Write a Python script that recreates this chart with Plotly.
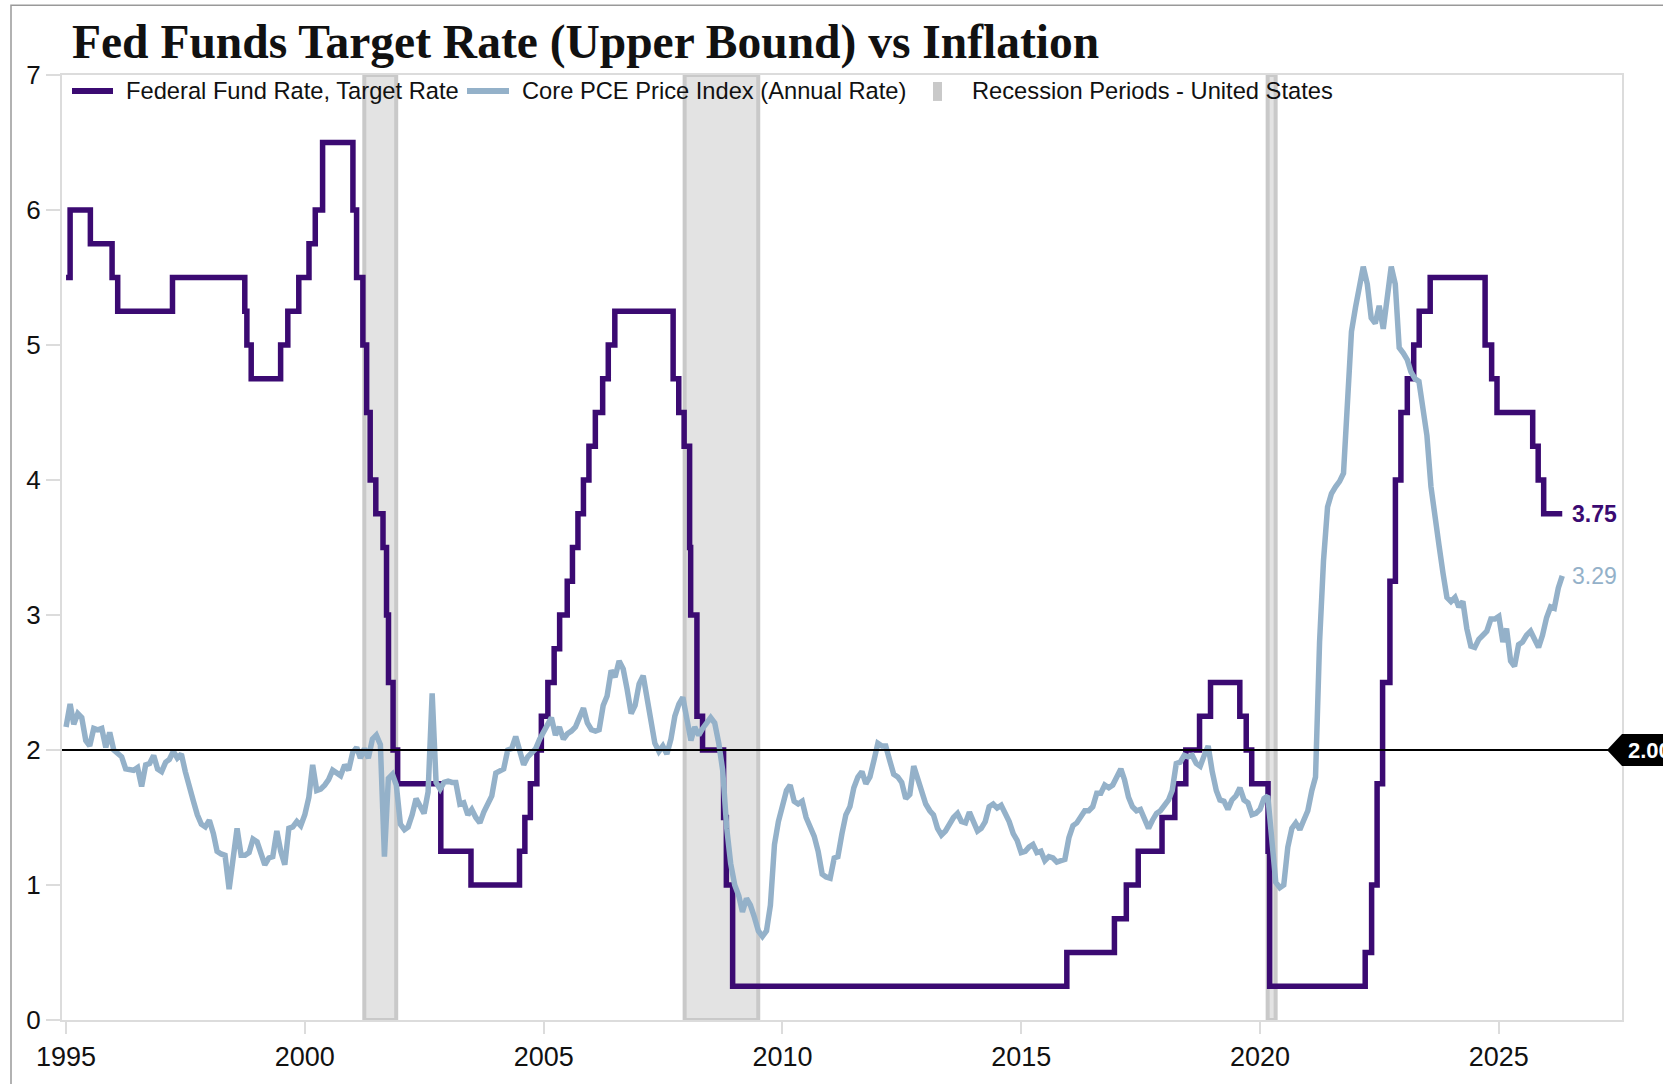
import plotly.graph_objects as go
import pandas as pd

title_text = "Fed Funds Target Rate (Upper Bound) vs Inflation"
fed_name = "Federal Fund Rate, Target Rate"
pce_name = "Core PCE Price Index (Annual Rate)"
rec_name = "Recession Periods - United States"

# Fed funds target rate (upper bound): change dates and new levels
fed_dates = ["1995-01-01", "1995-02-01", "1995-07-06", "1995-12-19", "1996-01-31", "1997-03-25",
             "1998-09-29", "1998-10-15", "1998-11-17", "1999-06-30", "1999-08-24", "1999-11-16",
             "2000-02-02", "2000-03-21", "2000-05-16", "2001-01-03", "2001-01-31", "2001-03-20",
             "2001-04-18", "2001-05-15", "2001-06-27", "2001-08-21", "2001-09-17", "2001-10-02",
             "2001-11-06", "2001-12-11", "2002-11-06", "2003-06-25", "2004-06-30", "2004-08-10",
             "2004-09-21", "2004-11-10", "2004-12-14", "2005-02-02", "2005-03-22", "2005-05-03",
             "2005-06-30", "2005-08-09", "2005-09-20", "2005-11-01", "2005-12-13", "2006-01-31",
             "2006-03-28", "2006-05-10", "2006-06-29", "2007-09-18", "2007-10-31", "2007-12-11",
             "2008-01-22", "2008-01-30", "2008-03-18", "2008-04-30", "2008-10-08", "2008-10-29",
             "2008-12-16", "2015-12-16", "2016-12-14", "2017-03-15", "2017-06-14", "2017-12-13",
             "2018-03-21", "2018-06-13", "2018-09-26", "2018-12-19", "2019-07-31", "2019-09-18",
             "2019-10-30", "2020-03-03", "2020-03-15", "2022-03-16", "2022-05-04", "2022-06-15",
             "2022-07-27", "2022-09-21", "2022-11-02", "2022-12-14", "2023-02-01", "2023-03-22",
             "2023-05-03", "2023-07-26", "2024-09-18", "2024-11-07", "2024-12-18", "2025-09-17",
             "2025-10-29", "2025-12-10", "2026-05-01"]
fed_values = [5.5, 6.0, 5.75, 5.5, 5.25, 5.5,
              5.25, 5.0, 4.75, 5.0, 5.25, 5.5,
              5.75, 6.0, 6.5, 6.0, 5.5, 5.0,
              4.5, 4.0, 3.75, 3.5, 3.0, 2.5,
              2.0, 1.75, 1.25, 1.0, 1.25, 1.5,
              1.75, 2.0, 2.25, 2.5, 2.75, 3.0,
              3.25, 3.5, 3.75, 4.0, 4.25, 4.5,
              4.75, 5.0, 5.25, 4.75, 4.5, 4.25,
              3.5, 3.0, 2.25, 2.0, 1.5, 1.0,
              0.25, 0.5, 0.75, 1.0, 1.25, 1.5,
              1.75, 2.0, 2.25, 2.5, 2.25, 2.0,
              1.75, 1.25, 0.25, 0.5, 1.0, 1.75,
              2.5, 3.25, 4.0, 4.5, 4.75, 5.0,
              5.25, 5.5, 5.0, 4.75, 4.5, 4.25,
              4.0, 3.75, 3.75]

# Core PCE, annual rate, monthly from Jan 1995
pce_start = "1995-01-01"
pce_values = [
    2.17, 2.34, 2.19, 2.27, 2.24, 2.07, 2.03, 2.16, 2.15, 2.16, 2.02, 2.13,   # 1995
    2.00, 1.97, 1.95, 1.86, 1.85, 1.85, 1.87, 1.73, 1.89, 1.90, 1.96, 1.86,   # 1996
    1.84, 1.91, 1.93, 1.99, 1.94, 1.97, 1.84, 1.71, 1.62, 1.52, 1.45, 1.43,   # 1997
    1.48, 1.38, 1.25, 1.23, 1.22, 0.97, 1.18, 1.42, 1.22, 1.22, 1.24, 1.34,   # 1998
    1.32, 1.22, 1.15, 1.20, 1.21, 1.40, 1.25, 1.15, 1.42, 1.43, 1.47, 1.44,   # 1999
    1.52, 1.65, 1.89, 1.70, 1.71, 1.74, 1.78, 1.85, 1.83, 1.81, 1.89, 1.85,   # 2000
    1.98, 2.02, 1.94, 2.01, 1.94, 2.08, 2.11, 2.04, 1.21, 1.79, 1.82, 1.74,   # 2001
    1.45, 1.41, 1.43, 1.52, 1.64, 1.58, 1.53, 1.69, 2.42, 1.76, 1.71, 1.76,   # 2002
    1.77, 1.76, 1.76, 1.60, 1.61, 1.52, 1.56, 1.50, 1.46, 1.54, 1.60, 1.66,   # 2003
    1.83, 1.85, 1.86, 2.00, 2.01, 2.10, 1.98, 1.89, 1.95, 1.98, 2.01, 2.08,   # 2004
    2.13, 2.19, 2.24, 2.11, 2.17, 2.08, 2.12, 2.14, 2.17, 2.24, 2.31, 2.20,   # 2005
    2.15, 2.14, 2.15, 2.33, 2.40, 2.59, 2.54, 2.66, 2.60, 2.45, 2.27, 2.33,   # 2006
    2.49, 2.55, 2.40, 2.22, 2.05, 1.99, 2.03, 1.97, 2.08, 2.25, 2.34, 2.39,   # 2007
    2.20, 2.07, 2.17, 2.11, 2.16, 2.20, 2.24, 2.20, 2.05, 1.85, 1.42, 1.16,   # 2008
    1.00, 0.92, 0.80, 0.90, 0.85, 0.76, 0.66, 0.62, 0.66, 0.85, 1.30, 1.47,   # 2009
    1.60, 1.70, 1.74, 1.62, 1.60, 1.62, 1.50, 1.44, 1.36, 1.25, 1.08, 1.06,   # 2010
    1.05, 1.20, 1.21, 1.38, 1.52, 1.58, 1.72, 1.80, 1.84, 1.75, 1.80, 1.92,   # 2011
    2.05, 2.03, 2.03, 1.92, 1.82, 1.80, 1.76, 1.64, 1.67, 1.88, 1.78, 1.68,   # 2012
    1.60, 1.55, 1.52, 1.42, 1.37, 1.40, 1.46, 1.50, 1.53, 1.47, 1.46, 1.54,   # 2013
    1.47, 1.40, 1.42, 1.47, 1.58, 1.60, 1.57, 1.59, 1.53, 1.47, 1.38, 1.33,   # 2014
    1.24, 1.25, 1.28, 1.30, 1.24, 1.25, 1.18, 1.21, 1.20, 1.17, 1.18, 1.19,   # 2015
    1.35, 1.44, 1.46, 1.50, 1.55, 1.55, 1.58, 1.68, 1.68, 1.74, 1.72, 1.74,   # 2016
    1.80, 1.86, 1.78, 1.65, 1.58, 1.55, 1.56, 1.48, 1.42, 1.48, 1.53, 1.55,   # 2017
    1.59, 1.63, 1.70, 1.90, 1.91, 1.96, 1.95, 1.96, 1.90, 1.88, 1.96, 2.03,   # 2018
    1.84, 1.70, 1.63, 1.62, 1.56, 1.63, 1.66, 1.72, 1.63, 1.61, 1.52, 1.53,   # 2019
    1.56, 1.64, 1.66, 1.30, 1.02, 0.98, 1.00, 1.28, 1.42, 1.46, 1.41, 1.48,   # 2020
    1.55, 1.70, 1.80, 2.80, 3.40, 3.80, 3.90, 3.95, 3.99, 4.05, 4.60, 5.10,   # 2021
    5.28, 5.45, 5.58, 5.45, 5.20, 5.16, 5.29, 5.12, 5.40, 5.58, 5.45, 4.98,   # 2022
    4.94, 4.89, 4.80, 4.75, 4.73, 4.50, 4.33, 3.95, 3.76, 3.52, 3.31, 3.13,   # 2023
    3.10, 3.13, 3.06, 3.10, 2.90, 2.77, 2.76, 2.82, 2.85, 2.88, 2.97, 2.97,   # 2024
    2.99, 2.80, 2.90, 2.66, 2.62, 2.78, 2.80, 2.85, 2.88, 2.82, 2.76, 2.85,   # 2025
    2.98, 3.06, 3.05, 3.20, 3.29,                                             # 2026
]
pce_dates = pd.date_range(pce_start, periods=len(pce_values), freq="MS")

rec_start = ["2001-03-31", "2007-12-15", "2020-02-29"]
rec_end = ["2001-11-30", "2009-06-30", "2020-04-30"]

target_level = 2.0

FED_COLOR = "#3b0a72"
PCE_COLOR = "#94b1c9"
REC_FILL = "#e3e3e3"
REC_EDGE = "#c9c9c9"
AXIS_COLOR = "#dcdcdc"
SANS = "Liberation Sans, Arial, sans-serif"
TXT = "#111111"

# plot-area geometry (pixels) used to place the hand-made legend
W, H = 1663, 1084
ML, MR, MT, MB = 62, 41, 75, 62
PW, PH = W - ML - MR, H - MT - MB


def px_x(p):
    return (p - ML) / PW


def px_y(p):
    return (H - MB - p) / PH


fig = go.Figure()

for s, e in zip(rec_start, rec_end):
    fig.add_shape(type="rect", xref="x", yref="y", x0=s, x1=e, y0=0, y1=7,
                  fillcolor=REC_FILL, line=dict(color=REC_EDGE, width=4), layer="below")

fig.add_trace(go.Scatter(x=fed_dates, y=fed_values, mode="lines", name=fed_name,
                         line=dict(color=FED_COLOR, width=5.5, shape="hv")))
fig.add_trace(go.Scatter(x=pce_dates, y=pce_values, mode="lines", name=pce_name,
                         line=dict(color=PCE_COLOR, width=5.5)))

# 2% reference line
fig.add_shape(type="line", xref="paper", yref="y", x0=0, x1=1, y0=target_level, y1=target_level,
              line=dict(color="black", width=2), layer="above")
# right-side pointer label for 2.00
fig.add_shape(type="path", xref="paper", yref="y", xsizemode="pixel", ysizemode="pixel",
              xanchor=1, yanchor=target_level,
              path="M -15,0 L 0,16 L 80,16 L 80,-16 L 0,-16 Z",
              fillcolor="black", line=dict(color="black", width=0), layer="above")
fig.add_annotation(x=1, xref="paper", y=target_level, yref="y", text="<b>%.2f</b>" % target_level,
                   showarrow=False, xanchor="left", yanchor="middle", xshift=4,
                   font=dict(family=SANS, size=22, color="white"))

# end labels
fig.add_annotation(x=fed_dates[-1], y=fed_values[-1], text="<b>%.2f</b>" % fed_values[-1],
                   showarrow=False, xanchor="left", yanchor="middle", xshift=8,
                   font=dict(family=SANS, size=23, color=FED_COLOR))
fig.add_annotation(x=pce_dates[-1], y=pce_values[-1], text="%.2f" % pce_values[-1],
                   showarrow=False, xanchor="left", yanchor="middle", xshift=8,
                   font=dict(family=SANS, size=23, color=PCE_COLOR))

# legend (drawn by hand to match the reference's long line keys)
leg_y = px_y(91)
legend_items = [
    (fed_name, "line", FED_COLOR, 72, 113, 124),
    (pce_name, "line", PCE_COLOR, 467, 509, 520),
    (rec_name, "bar", REC_EDGE, 933, 942, 970),
]
for name, kind, color, s0, s1, tx in legend_items:
    if kind == "line":
        fig.add_shape(type="line", xref="paper", yref="paper", x0=px_x(s0), x1=px_x(s1),
                      y0=leg_y, y1=leg_y, line=dict(color=color, width=6))
    else:
        fig.add_shape(type="rect", xref="paper", yref="paper", x0=px_x(s0), x1=px_x(s1),
                      y0=px_y(101), y1=px_y(82), fillcolor=color, line=dict(width=0))
    fig.add_annotation(x=px_x(tx), y=leg_y, xref="paper", yref="paper", text=name,
                       showarrow=False, xanchor="left", yanchor="middle",
                       font=dict(family=SANS, size=23.7, color=TXT))

# outer frame
fig.add_shape(type="rect", xref="paper", yref="paper", x0=px_x(11), x1=1.2, y0=-0.3, y1=px_y(5),
              line=dict(color="#999999", width=1.5), fillcolor="rgba(0,0,0,0)", layer="above")

fig.update_layout(
    width=W, height=H,
    margin=dict(l=ML, r=MR, t=MT, b=MB),
    paper_bgcolor="white", plot_bgcolor="white",
    title=dict(text="<b>" + title_text + "</b>", x=72 / W, xanchor="left", xref="container",
               y=1 - 41 / H, yanchor="middle", yref="container",
               font=dict(family="Liberation Serif, Times New Roman, serif", size=47.5, color=TXT)),
    showlegend=False,
    xaxis=dict(type="date", range=["1994-12-01", "2027-08-01"], tick0="1995-01-01", dtick="M60",
               tickformat="%Y", showgrid=False, zeroline=False, showline=True, mirror=True,
               linecolor=AXIS_COLOR, linewidth=2, ticks="outside", ticklen=12, tickwidth=2,
               tickcolor=AXIS_COLOR, tickfont=dict(family=SANS, size=27, color=TXT)),
    yaxis=dict(range=[0, 7], dtick=1, showgrid=False, zeroline=False, showline=True, mirror=True,
               linecolor=AXIS_COLOR, linewidth=2, ticks="outside", ticklen=14, tickwidth=2,
               tickcolor=AXIS_COLOR, tickfont=dict(family=SANS, size=26, color=TXT)),
)

fig.write_html("out.html", config={"displayModeBar": False},
               post_script="document.body.style.margin='0';document.body.style.overflow='hidden';")
